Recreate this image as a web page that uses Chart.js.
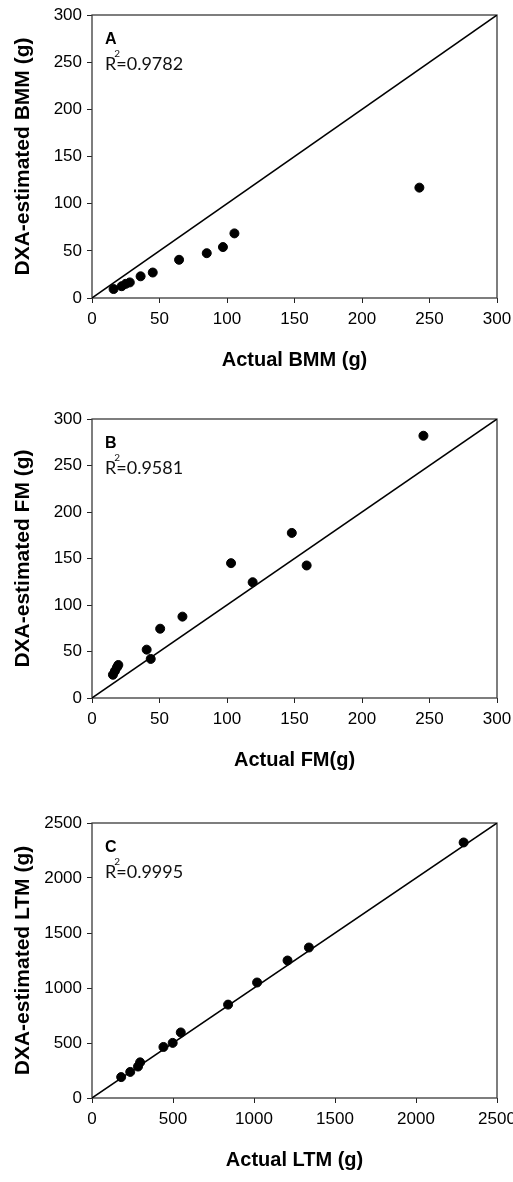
<!DOCTYPE html>
<html>
<head>
<meta charset="utf-8">
<script src="https://cdn.jsdelivr.net/npm/chart.js@4.4.0/dist/chart.umd.min.js"></script>
<style>
  html, body { margin: 0; padding: 0; background: #fff; overflow: hidden; }
  .panel { position: absolute; left: 0; width: 513px; height: 382px; }
</style>
</head>
<body>
<div class="panel" style="top:0px"><canvas id="chartA"></canvas></div>
<div class="panel" style="top:400px"><canvas id="chartB"></canvas></div>
<div class="panel" style="top:800px"><canvas id="chartC"></canvas></div>
<script>
// Panel A - bone mineral mass
const bmmActual = [16, 22, 25, 28, 36, 45, 64.5, 85, 97, 105.5, 242.5];
const bmmDxa = [9.5, 12.5, 15, 16.5, 23, 27, 40.5, 47.5, 54, 68.5, 117];

// Panel B - fat mass
const fmActual = [15.5, 17, 18.5, 19.5, 40.5, 43.5, 50.5, 67, 103, 119, 148, 159, 245.5];
const fmDxa = [25, 29, 33, 35.5, 52, 42, 74.5, 87.5, 145, 124.5, 177.5, 142.5, 282];

// Panel C - lean tissue mass
const ltmActual = [180, 236, 284, 297, 441, 498, 548, 840, 1019, 1207, 1339, 2294];
const ltmDxa = [190, 237, 286, 324, 464, 501, 596, 849, 1050, 1250, 1368, 2323];

// tick labels
const massTicks = [0, 50, 100, 150, 200, 250, 300];
const ltmTicks = [0, 500, 1000, 1500, 2000, 2500];

// panel texts
const panelLetters = ['A', 'B', 'C'];
const r2Values = ['0.9782', '0.9581', '0.9995'];
const xTitles = ['Actual BMM (g)', 'Actual FM(g)', 'Actual LTM (g)'];
const yTitles = ['DXA-estimated BMM (g)', 'DXA-estimated FM (g)', 'DXA-estimated LTM (g)'];

// frame around plot + letter and R² note
const panelNote = {
  id: 'panelNote',
  beforeDatasetsDraw(chart) {
    const { ctx, chartArea: a } = chart;
    ctx.save();
    ctx.strokeStyle = '#3a3a3a';
    ctx.lineWidth = 1.3;
    ctx.strokeRect(a.left, a.top, a.right - a.left, a.bottom - a.top);
    ctx.restore();
  },
  afterDatasetsDraw(chart, args, opts) {
    const { ctx, chartArea: a } = chart;
    ctx.save();
    ctx.fillStyle = '#000';
    ctx.textBaseline = 'alphabetic';
    ctx.font = 'bold 16px Arial';
    ctx.fillText(opts.letter, a.left + 13, a.top + 29);
    const x = a.left + 13, y = a.top + 55;
    ctx.fillStyle = '#111';
    ctx.font = '18px Lato';
    ctx.fillText('R', x, y);
    const w = ctx.measureText('R').width;
    ctx.fillText('=' + opts.r2, x + w, y);
    ctx.font = '10px Lato';
    ctx.fillText('2', x + w - 2, y - 13);
    ctx.restore();
  }
};

function makePanel(id, idx, xs, ys, ticks, padTop) {
  const max = ticks[ticks.length - 1];
  const points = xs.map((v, i) => ({ x: v, y: ys[i] }));
  new Chart(document.getElementById(id), {
    type: 'scatter',
    data: {
      datasets: [
        {
          data: points,
          backgroundColor: '#000',
          borderColor: '#000',
          pointRadius: 4.5,
          pointHoverRadius: 4.5,
          order: 0
        },
        {
          data: [{ x: 0, y: 0 }, { x: max, y: max }],
          showLine: true,
          borderColor: '#000',
          borderWidth: 1.5,
          pointRadius: 0,
          order: 1
        }
      ]
    },
    options: {
      responsive: true,
      maintainAspectRatio: false,
      animation: false,
      layout: { padding: { top: padTop, right: 16, left: 0, bottom: 0 } },
      plugins: {
        legend: { display: false },
        tooltip: { enabled: false },
        panelNote: { letter: panelLetters[idx], r2: r2Values[idx] }
      },
      scales: {
        x: {
          type: 'linear',
          min: 0,
          max: max,
          afterBuildTicks: s => { s.ticks = ticks.map(v => ({ value: v })); },
          afterFit: s => { s.height = 84; s.paddingLeft = 0; s.paddingRight = 0; },
          grid: { drawOnChartArea: false, drawTicks: true, tickLength: 5, color: '#222' },
          border: { display: false },
          ticks: {
            color: '#000', font: { family: 'Arial', size: 17 }, padding: 6, maxRotation: 0,
            callback: v => String(v)
          },
          title: {
            display: true,
            text: xTitles[idx],
            color: '#000',
            font: { family: 'Arial', size: 20, weight: 'bold' },
            padding: { top: 0, bottom: 10 }
          }
        },
        y: {
          type: 'linear',
          min: 0,
          max: max,
          afterBuildTicks: s => { s.ticks = ticks.map(v => ({ value: v })); },
          afterFit: s => { s.width = 92; s.paddingTop = 0; s.paddingBottom = 0; },
          grid: { drawOnChartArea: false, drawTicks: true, tickLength: 5, color: '#222' },
          border: { display: false },
          ticks: { color: '#000', font: { family: 'Arial', size: 17 }, padding: 5, callback: v => String(v) },
          title: {
            display: true,
            text: yTitles[idx],
            color: '#000',
            font: { family: 'Arial', size: 21, weight: 'bold' },
            padding: { top: 11, bottom: 0 }
          }
        }
      }
    },
    plugins: [panelNote]
  });
}

makePanel('chartA', 0, bmmActual, bmmDxa, massTicks, 15);
makePanel('chartB', 1, fmActual, fmDxa, massTicks, 19);
makePanel('chartC', 2, ltmActual, ltmDxa, ltmTicks, 23);
</script>
</body>
</html>
